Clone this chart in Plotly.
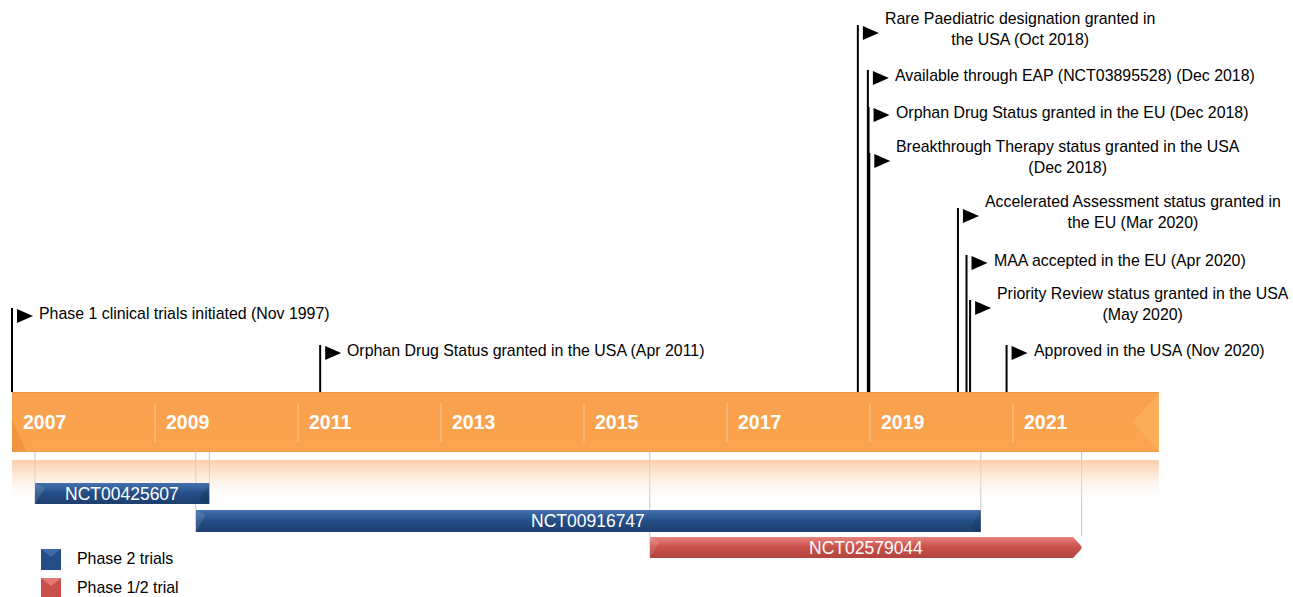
import plotly.graph_objects as go

# ---------------- data ----------------
year_ticks = [2007, 2009, 2011, 2013, 2015, 2017, 2019, 2021]
band_start = 2007.0
band_end = 2023.04

event_labels = [
    "Phase 1 clinical trials initiated (Nov 1997)",
    "Orphan Drug Status granted in the USA (Apr 2011)",
    "Rare Paediatric designation granted in<br>the USA (Oct 2018)",
    "Available through EAP (NCT03895528) (Dec 2018)",
    "Orphan Drug Status granted in the EU (Dec 2018)",
    "Breakthrough Therapy status granted in the USA<br>(Dec 2018)",
    "Accelerated Assessment status granted in<br>the EU (Mar 2020)",
    "MAA accepted in the EU (Apr 2020)",
    "Priority Review status granted in the USA<br>(May 2020)",
    "Approved in the USA (Nov 2020)",
]
# decimal-year position of each flag (Nov 1997 is before the axis start -> drawn at start)
event_dates = [2007.0, 2011.31, 2018.83, 2018.97, 2018.98, 2018.99, 2020.23, 2020.35, 2020.40, 2020.91]

trial_names = ["NCT00425607", "NCT00916747", "NCT02579044"]
trial_start = [2007.32, 2009.57, 2015.92]
trial_end = [2009.76, 2020.55, 2021.96]
trial_phase = ["Phase 2 trials", "Phase 2 trials", "Phase 1/2 trial"]

legend_labels = ["Phase 2 trials", "Phase 1/2 trial"]

# ---------------- layout / style ----------------
W, H = 1293, 597
PX_PER_YEAR = 71.5
X0_PX = 12
x_range = [band_start - X0_PX / PX_PER_YEAR, band_start + (W - X0_PX) / PX_PER_YEAR]
y_range = [H, 0]   # y data units = screen pixel rows

flag_top = [308, 345, 25, 70, 107, 153, 208, 255, 300, 345]  # pixel rows of the flags
BAND_TOP, BAND_BOT = 392, 452
STRIP_TOP, STRIP_BOT = 460, 502
bar_rows = [(483, 504), (510, 532), (537, 558)]

FONT = "Liberation Sans, Arial, sans-serif"
TXT = 15.9
phase_colors = {
    "Phase 2 trials": ("#4472AE", "#244D86", "#1E3F6E"),
    "Phase 1/2 trial": ("#E7837E", "#C9504B", "#B24440"),
}

fig = go.Figure()
shapes = []
annotations = []


def px(x_screen):
    return x_screen / W


def grad_rect(x0, x1, y0, y1, c_top, c_bot, mid=None):
    cs = [[0, c_top], [1, c_bot]] if mid is None else [[0, c_top], [0.5, mid], [1, c_bot]]
    fig.add_trace(go.Scatter(
        x=[x0, x1, x1, x0, x0], y=[y0, y0, y1, y1, y0], mode="lines",
        line=dict(width=0), fill="toself",
        fillgradient=dict(type="vertical", colorscale=cs, start=y0, stop=y1),
        hoverinfo="skip", showlegend=False))


# fading strip below the band
grad_rect(band_start, band_end, STRIP_TOP, STRIP_BOT,
          "rgba(249,190,140,0.75)", "rgba(255,255,255,0)", mid="rgba(252,225,200,0.45)")

# main band
grad_rect(band_start, band_end, BAND_TOP, BAND_BOT, "#F7A04F", "#FBA44F", mid="#FAA24E")
# left bevel triangle
shapes.append(dict(type="path", xref="x", yref="y", xsizemode="pixel", xanchor=band_start,
                   path=f"M 0,{BAND_BOT} L 0,{BAND_TOP+28} L 14,{BAND_BOT-2} Z",
                   fillcolor="rgba(220,120,40,0.35)", line=dict(width=0), layer="above"))
# right chevron
shapes.append(dict(type="path", xref="x", yref="y", xsizemode="pixel", xanchor=band_end,
                   path=f"M 0,{BAND_TOP+1} L -26,{(BAND_TOP+BAND_BOT)/2} L 0,{BAND_BOT-1} Z",
                   fillcolor="rgba(255,200,110,0.3)", line=dict(width=0), layer="above"))
# top / bottom edge shading of the band
shapes.append(dict(type="line", xref="x", yref="y", x0=band_start, x1=band_end,
                   y0=BAND_TOP + 0.5, y1=BAND_TOP + 0.5, line=dict(color="#F2933F", width=1)))
shapes.append(dict(type="line", xref="x", yref="y", x0=band_start, x1=band_end,
                   y0=BAND_BOT - 0.5, y1=BAND_BOT - 0.5, line=dict(color="#F39A48", width=1)))

# separators & year labels
for i, yr in enumerate(year_ticks):
    if i > 0:
        shapes.append(dict(type="line", xref="x", yref="y", x0=yr, x1=yr, y0=403, y1=442,
                           line=dict(color="rgba(255,225,190,0.6)", width=1)))
    annotations.append(dict(x=yr, y=422, xref="x", yref="y", text=f"<b>{yr}</b>",
                            showarrow=False, xanchor="left", yanchor="middle", xshift=9,
                            font=dict(family=FONT, size=19.5, color="white")))

# trial connectors, bars and labels
for name, s, e, ph, (y0, y1) in zip(trial_names, trial_start, trial_end, trial_phase, bar_rows):
    for xx in (s, e):
        shapes.append(dict(type="line", xref="x", yref="y", x0=xx, x1=xx, y0=BAND_BOT, y1=y0,
                           line=dict(color="#C4C4C4", width=1), layer="below"))
    ctop, cmid, cbot = phase_colors[ph]
    grad_rect(s, e, y0, y1, ctop, cbot, mid=cmid)
    # left bevel
    shapes.append(dict(type="path", xref="x", yref="y", xsizemode="pixel", xanchor=s,
                       path=f"M 0,{y0} L 10,{y0+5} L 0,{y1} Z",
                       fillcolor="rgba(255,255,255,0.12)", line=dict(width=0)))
    if ph == "Phase 1/2 trial":
        # cut the end into an arrow head
        mid_y = (y0 + y1) / 2
        shapes.append(dict(type="path", xref="x", yref="y", xsizemode="pixel", xanchor=e,
                           path=f"M -9,{y0-0.5} L 1,{y0-0.5} L 1,{mid_y} Z",
                           fillcolor="white", line=dict(width=0)))
        shapes.append(dict(type="path", xref="x", yref="y", xsizemode="pixel", xanchor=e,
                           path=f"M -9,{y1+0.5} L 1,{y1+0.5} L 1,{mid_y} Z",
                           fillcolor="white", line=dict(width=0)))
    else:
        shapes.append(dict(type="path", xref="x", yref="y", xsizemode="pixel", xanchor=e,
                           path=f"M 0,{y0} L -10,{y1-4} L 0,{y1} Z",
                           fillcolor="rgba(0,0,0,0.12)", line=dict(width=0)))
    annotations.append(dict(x=(s + e) / 2, y=(y0 + y1) / 2, xref="x", yref="y", text=name,
                            showarrow=False, xanchor="center", yanchor="middle",
                            font=dict(family=FONT, size=17.5, color="white")))

# flags
for lab, d, top in zip(event_labels, event_dates, flag_top):
    shapes.append(dict(type="line", xref="x", yref="y", x0=d, x1=d, y0=top, y1=BAND_TOP,
                       line=dict(color="black", width=2)))
    shapes.append(dict(type="path", xref="x", yref="y", xsizemode="pixel", xanchor=d,
                       path=f"M 5,{top+1} L 21,{top+8} L 5,{top+15} Z",
                       fillcolor="black", line=dict(width=0)))
    nlines = lab.count("<br>") + 1
    yc = top + 5 if nlines == 1 else top + 4
    annotations.append(dict(x=d, y=yc, xref="x", yref="y", text=lab, showarrow=False,
                            xanchor="left", yanchor="middle", xshift=25, align="center",
                            font=dict(family=FONT, size=TXT, color="black")))

# legend
legend_rows = [(549, 570), (578, 599)]
for lab, (y0, y1) in zip(legend_labels, legend_rows):
    ctop, cmid, cbot = phase_colors[lab]
    shapes.append(dict(type="rect", xref="paper", yref="y", x0=px(41), x1=px(61), y0=y0, y1=y1,
                       fillcolor=cmid, line=dict(width=0)))
    shapes.append(dict(type="path", xref="paper", yref="y", xsizemode="pixel", xanchor=px(41),
                       path=f"M 0,{y0} L 10,{y0+8} L 20,{y0} Z",
                       fillcolor=ctop, line=dict(width=0), opacity=0.8))
    annotations.append(dict(x=px(75), y=(y0 + y1) / 2 - 1, xref="paper", yref="y", text=lab,
                            showarrow=False, xanchor="left", yanchor="middle",
                            font=dict(family=FONT, size=TXT, color="black")))

fig.update_layout(
    width=W, height=H, margin=dict(l=0, r=0, t=0, b=0),
    paper_bgcolor="white", plot_bgcolor="white",
    xaxis=dict(range=x_range, visible=False, fixedrange=True),
    yaxis=dict(range=y_range, visible=False, fixedrange=True),
    shapes=shapes, annotations=annotations, showlegend=False, hovermode=False,
)

fig.write_html("out.html", config={"displayModeBar": False},
               post_script="document.body.style.margin='0';document.body.style.overflow='hidden';")
